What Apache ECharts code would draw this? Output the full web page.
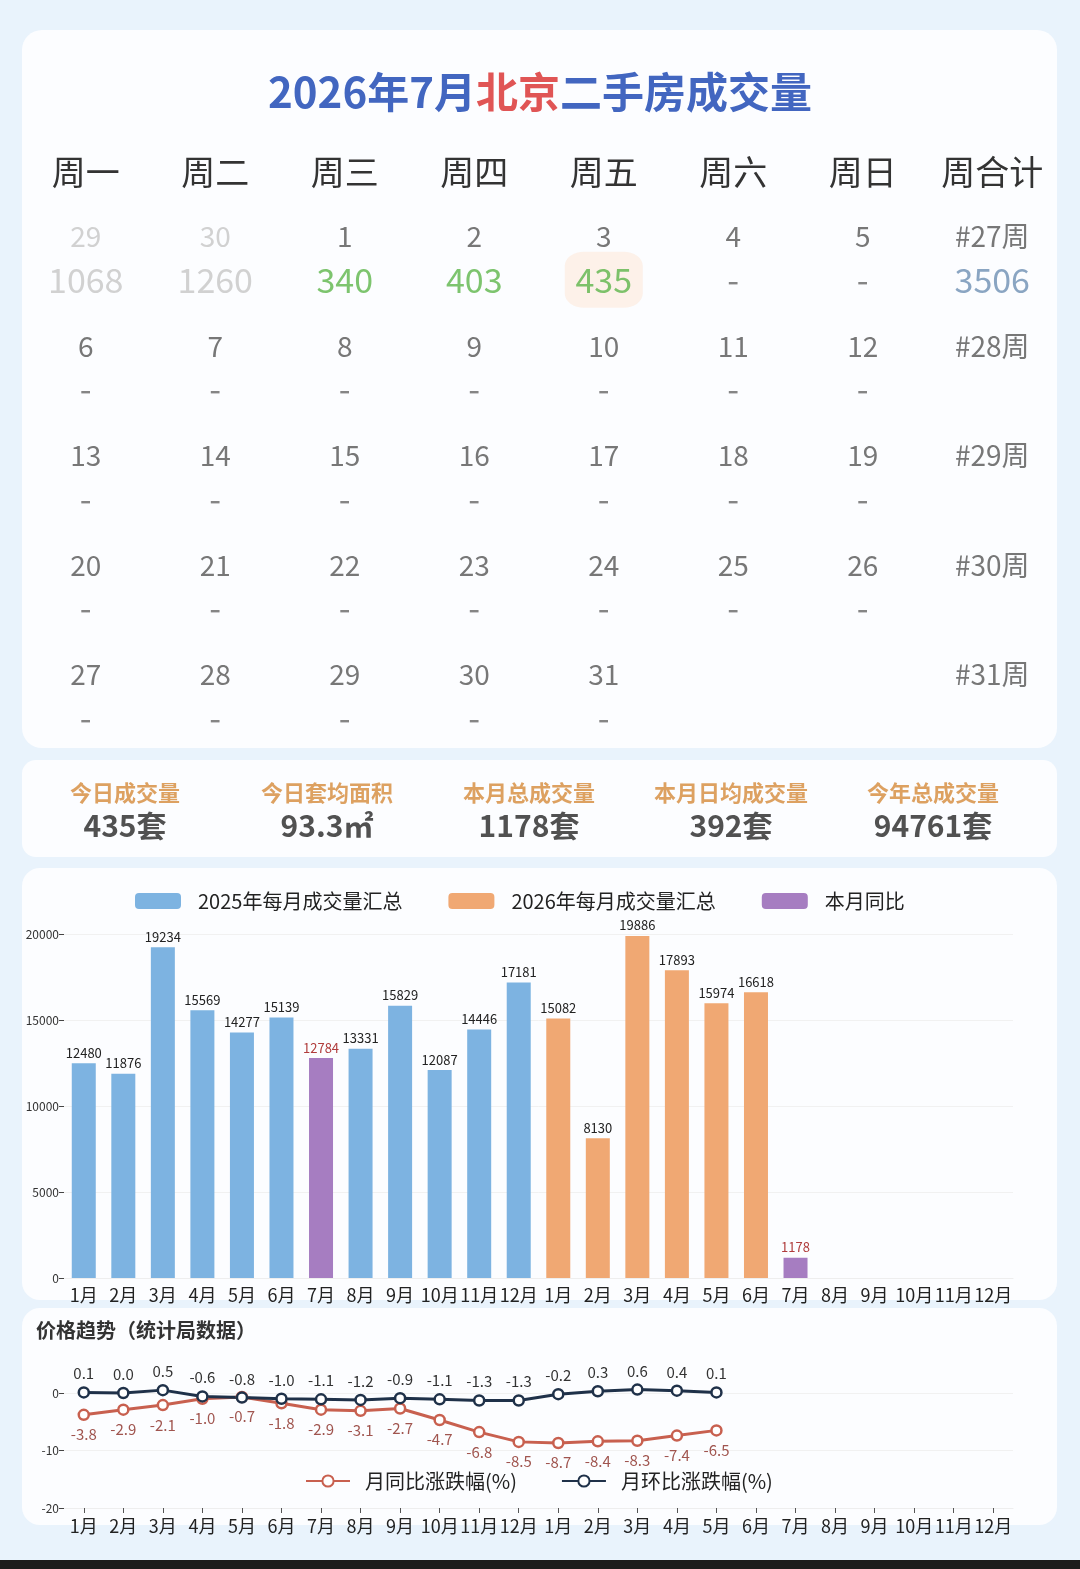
<!DOCTYPE html>
<html><head><meta charset="utf-8">
<script src="https://cdn.jsdelivr.net/npm/echarts@6/dist/echarts.min.js"></script>
<style>html,body{margin:0;padding:0;background:#e9f3fc;}#c{width:1080px;height:1569px;}</style>
</head><body><div id="c"></div>
<script>
// ---------- DATA ----------
const weekdayHeaders = ['周一','周二','周三','周四','周五','周六','周日','周合计'];
const calendarDays = [
  [29,30,1,2,3,4,5],
  [6,7,8,9,10,11,12],
  [13,14,15,16,17,18,19],
  [20,21,22,23,24,25,26],
  [27,28,29,30,31,null,null]
];
const dayVolumes = [
  [1068,1260,340,403,435,null,null],
  [null,null,null,null,null,null,null],
  [null,null,null,null,null,null,null],
  [null,null,null,null,null,null,null],
  [null,null,null,null,null,null,null]
];
const weekLabels = ['#27周','#28周','#29周','#30周','#31周'];
const weekTotals = [3506,null,null,null,null];
const todayDay = 3;

const statLabels = ['今日成交量','今日套均面积','本月总成交量','本月日均成交量','今年总成交量'];
const statValues = ['435套','93.3㎡','1178套','392套','94761套'];

const monthLabels = ['1月','2月','3月','4月','5月','6月','7月','8月','9月','10月','11月','12月'];
const sales2025 = [12480,11876,19234,15569,14277,15139,12784,13331,15829,12087,14446,17181];
const sales2026 = [15082,8130,19886,17893,15974,16618,1178];
const currentMonthIdx = 6;
const seriesNames = ['2025年每月成交量汇总','2026年每月成交量汇总','本月同比'];

const yoyChange = [-3.8,-2.9,-2.1,-1.0,-0.7,-1.8,-2.9,-3.1,-2.7,-4.7,-6.8,-8.5,-8.7,-8.4,-8.3,-7.4,-6.5];
const momChange = [0.1,0.0,0.5,-0.6,-0.8,-1.0,-1.1,-1.2,-0.9,-1.1,-1.3,-1.3,-0.2,0.3,0.6,0.4,0.1];
const lineNames = ['月同比涨跌幅(%)','月环比涨跌幅(%)'];

// ---------- BUILD ----------
const FONT = "'Noto Sans CJK SC',sans-serif";
const CJK = "'Noto Sans CJK SC',sans-serif";
const rowNames = calendarDays.map((_, i) => 'r' + i);
const dateItems = [], valueItems = [], highlightItems = [];
calendarDays.forEach((row, r) => {
  row.forEach((d, c) => {
    if (d == null) return;
    const prev = r === 0 && d > 20;
    dateItems.push({ value: [c, r], name: String(d), label: { color: prev ? '#c6c6c6' : '#555' } });
    const v = dayVolumes[r][c];
    valueItems.push({ value: [c, r], name: v != null ? String(v) : '-',
      label: { color: prev ? '#c6c6c6' : (v != null ? '#5cb54a' : '#666') } });
    if (!prev && d === todayDay) highlightItems.push({ value: [c, r] });
  });
  dateItems.push({ value: [7, r], name: weekLabels[r], label: { color: '#555' } });
  if (weekTotals[r] != null) valueItems.push({ value: [7, r], name: String(weekTotals[r]), label: { color: '#6d8fb3' } });
});

const cats = monthLabels.concat(monthLabels);
const blueData = cats.map((_, i) => (i < 12 && i !== currentMonthIdx) ? sales2025[i] : '-');
const orangeData = cats.map((_, i) => (i >= 12 && i - 12 < sales2026.length && i - 12 !== currentMonthIdx) ? sales2026[i - 12] : '-');
const purpleData = cats.map((_, i) => i === currentMonthIdx ? sales2025[i] : (i === 12 + currentMonthIdx ? sales2026[currentMonthIdx] : '-'));

const chart = echarts.init(document.getElementById('c'), null, { renderer: 'canvas' });
const RED = '#c8604f', NAVY = '#1f3149';
chart.setOption({
  backgroundColor: '#e9f3fc',
  animation: false,
  textStyle: { fontFamily: FONT },
  graphic: [
    { type: 'rect', z: -10, shape: { x: 22, y: 30, width: 1035, height: 718, r: 20 }, style: { fill: '#fcfdff' } },
    { type: 'rect', z: -10, shape: { x: 22, y: 760, width: 1035, height: 97, r: 14 }, style: { fill: '#fcfdff' } },
    { type: 'rect', z: -10, shape: { x: 22, y: 868, width: 1035, height: 432, r: 18 }, style: { fill: '#fcfdff' } },
    { type: 'rect', z: -10, shape: { x: 22, y: 1308, width: 1035, height: 217, r: 18 }, style: { fill: '#fcfdff' } },
    { type: 'rect', z: -10, shape: { x: 0, y: 1560, width: 1080, height: 9 }, style: { fill: '#1c1c1c' } }
  ],
  title: [
    { text: '{b|2026年7月}{r|北京}{b|二手房成交量}', left: 'center', top: 66,
      textStyle: { rich: {
        b: { fontSize: 42, fontWeight: 'bold', color: '#4266c0', fontFamily: CJK },
        r: { fontSize: 42, fontWeight: 'bold', color: '#e05555', fontFamily: CJK } } } },
    { text: '价格趋势（统计局数据）', left: 31, top: 1315,
      textStyle: { fontSize: 20, fontWeight: 'bold', color: '#333', fontFamily: CJK } }
  ],
  legend: [
    { data: seriesNames, left: 130, top: 886, itemWidth: 46, itemHeight: 16, itemGap: 46,
      textStyle: { fontSize: 20, color: '#222', fontFamily: CJK, padding: [0, 0, 0, 12] } },
    { data: lineNames, left: 300, top: 1466, itemWidth: 44, itemHeight: 14, itemGap: 44,
      textStyle: { fontSize: 20, color: '#222', fontFamily: CJK, padding: [0, 0, 0, 10] } }
  ],
  grid: [
    { left: 21, width: 1036, top: 203, height: 547.5 },
    { left: 24, width: 1010, top: 780, height: 60 },
    { left: 64, right: 67, top: 934, bottom: 291 },
    { left: 64, right: 67, top: 1364.25, bottom: 61 }
  ],
  xAxis: [
    { gridIndex: 0, type: 'category', position: 'top', data: weekdayHeaders,
      axisLine: { show: false }, axisTick: { show: false },
      axisLabel: { fontSize: 34, color: '#333', margin: 14, interval: 0, fontFamily: CJK } },
    { gridIndex: 1, type: 'category', data: statLabels, show: false },
    { gridIndex: 2, type: 'category', data: cats,
      axisLine: { onZero: false, lineStyle: { color: '#eeeeee' } }, axisTick: { show: false },
      axisLabel: { fontSize: 18, color: '#222', margin: 8, interval: 0 } },
    { gridIndex: 3, type: 'category', data: cats,
      axisLine: { onZero: false, lineStyle: { color: '#eeeeee' } },
      axisTick: { show: true, alignWithLabel: true, length: 5, interval: 0, lineStyle: { color: '#555' } },
      axisLabel: { fontSize: 18, color: '#222', margin: 9, interval: 0 } }
  ],
  yAxis: [
    { gridIndex: 0, type: 'category', data: rowNames, inverse: true, show: false },
    { gridIndex: 1, type: 'category', data: ['s'], show: false },
    { gridIndex: 2, type: 'value', min: 0, max: 20000, interval: 5000,
      axisLine: { show: false },
      axisTick: { show: true, length: 5, lineStyle: { color: '#444' } },
      axisLabel: { fontSize: 12, color: '#333', margin: 5, formatter: v => String(v) },
      splitLine: { lineStyle: { color: '#f1f1f1' } } },
    { gridIndex: 3, type: 'value', min: -20, max: 5, interval: 10,
      axisLine: { show: false },
      axisTick: { show: true, length: 5, lineStyle: { color: '#444' }, customValues: [-20, -10, 0] },
      axisLabel: { fontSize: 12, color: '#333', margin: 5, customValues: [-20, -10, 0],
        formatter: v => (v === 5 ? '' : String(v)) },
      splitLine: { lineStyle: { color: '#f1f1f1' } } }
  ],
  series: [
    { type: 'scatter', xAxisIndex: 0, yAxisIndex: 0, symbol: 'roundRect', symbolSize: [78, 56],
      symbolOffset: [0, 22], itemStyle: { color: '#fdeee3' }, data: highlightItems, z: 1, silent: true },
    { type: 'scatter', xAxisIndex: 0, yAxisIndex: 0, symbolSize: 0, data: dateItems, z: 3,
      label: { show: true, position: 'inside', offset: [0, -21], fontSize: 28, formatter: p => p.name, fontFamily: FONT } },
    { type: 'scatter', xAxisIndex: 0, yAxisIndex: 0, symbolSize: 0, data: valueItems, z: 3,
      label: { show: true, position: 'inside', offset: [0, 22], fontSize: 34, formatter: p => p.name, fontFamily: FONT } },
    { type: 'scatter', xAxisIndex: 1, yAxisIndex: 1, symbolSize: 0, z: 3,
      data: statLabels.map((l, i) => ({ value: [i, 0], name: l })),
      label: { show: true, position: 'inside', fontFamily: CJK,
        formatter: p => '{l|' + statLabels[p.dataIndex] + '}\n{v|' + statValues[p.dataIndex] + '}',
        rich: { l: { fontSize: 22, fontWeight: 'bold', color: '#d4893a', lineHeight: 31, fontFamily: CJK },
                v: { fontSize: 30, fontWeight: 'bold', color: '#262626', lineHeight: 34, fontFamily: CJK } } } },
    { name: seriesNames[0], type: 'bar', xAxisIndex: 2, yAxisIndex: 2, data: blueData, barWidth: 24, barGap: '-100%',
      itemStyle: { color: '#7db3e1' },
      label: { show: true, position: 'top', fontSize: 13, color: '#222', distance: 4 } },
    { name: seriesNames[1], type: 'bar', xAxisIndex: 2, yAxisIndex: 2, data: orangeData, barWidth: 24, barGap: '-100%',
      itemStyle: { color: '#f0a873' },
      label: { show: true, position: 'top', fontSize: 13, color: '#222', distance: 4 } },
    { name: seriesNames[2], type: 'bar', xAxisIndex: 2, yAxisIndex: 2, data: purpleData, barWidth: 24, barGap: '-100%',
      itemStyle: { color: '#a67dc1' },
      label: { show: true, position: 'top', fontSize: 13, color: '#b03c3c', distance: 4 } },
    { name: lineNames[0], type: 'line', xAxisIndex: 3, yAxisIndex: 3, data: yoyChange,
      symbol: 'circle', symbolSize: 10, lineStyle: { color: RED, width: 3 },
      itemStyle: { color: '#fff', borderColor: RED, borderWidth: 2.5 },
      label: { show: true, position: 'bottom', distance: 6, fontSize: 15, color: '#a0554f',
        formatter: p => p.value.toFixed(1) } },
    { name: lineNames[1], type: 'line', xAxisIndex: 3, yAxisIndex: 3, data: momChange,
      symbol: 'circle', symbolSize: 10, lineStyle: { color: NAVY, width: 3 },
      itemStyle: { color: '#fff', borderColor: NAVY, borderWidth: 2.5 },
      label: { show: true, position: 'top', distance: 5, fontSize: 15, color: '#333',
        formatter: p => p.value.toFixed(1) } }
  ]
});
</script>
</body></html>
